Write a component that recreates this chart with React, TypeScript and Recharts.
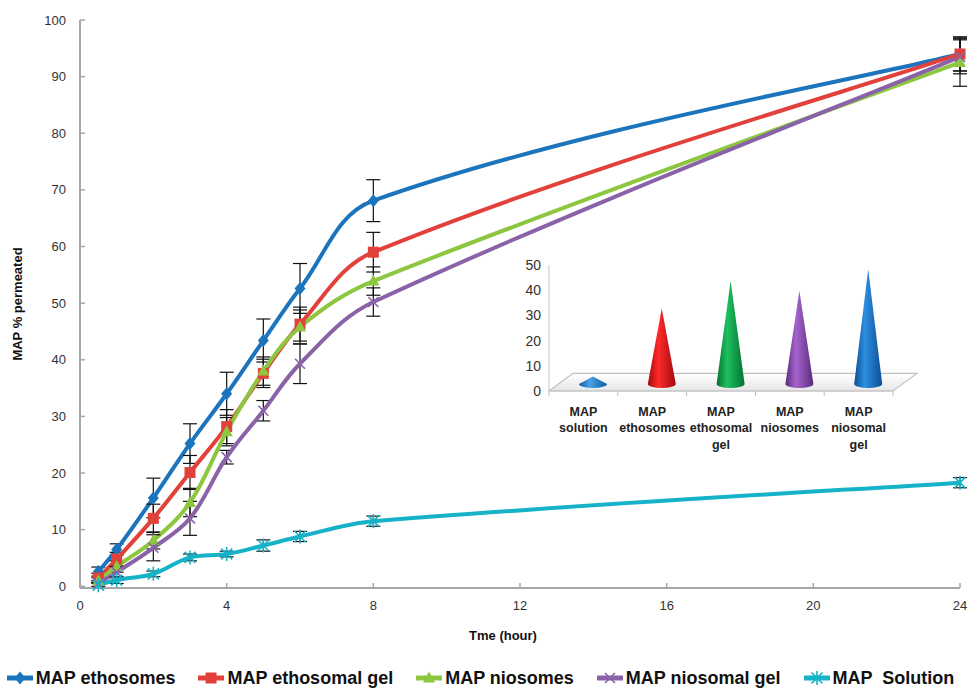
import React from "react";
import {
  Bar,
  BarChart,
  ErrorBar,
  Legend,
  Line,
  LineChart,
  ReferenceArea,
  XAxis,
  YAxis,
} from "recharts";

// permeation profile, % permeated vs time (h)
const hours = [0.5, 1, 2, 3, 4, 5, 6, 8, 24];
const ethosomes = [2.6, 6.5, 15.6, 25.2, 34.0, 43.4, 52.6, 68.1, 94.0];
const ethosomesErr = [0.8, 1.0, 3.5, 3.5, 3.8, 3.8, 4.4, 3.7, 3.0];
const ethosomalGel = [1.5, 4.8, 12.0, 20.1, 28.2, 37.6, 46.3, 59.0, 94.0];
const ethosomalGelErr = [0.8, 1.2, 2.5, 3.0, 3.0, 2.5, 3.0, 3.5, 3.0];
const niosomes = [1.0, 3.5, 8.1, 14.8, 27.3, 38.0, 45.8, 53.9, 92.5];
const niosomesErr = [0.5, 1.0, 1.5, 2.5, 2.5, 2.5, 3.0, 2.5, 4.2];
const niosomalGel = [0.5, 2.5, 6.8, 12.0, 22.8, 31.0, 39.3, 50.2, 93.5];
const niosomalGelErr = [0.5, 1.0, 2.3, 3.0, 1.2, 1.8, 3.5, 2.5, 3.0];
const solution = [0.2, 1.1, 2.2, 5.1, 5.7, 7.2, 8.8, 11.5, 18.3];
const solutionErr = [0.5, 0.6, 0.5, 0.6, 0.5, 1.0, 0.9, 0.9, 0.9];

const xTicks = [0, 4, 8, 12, 16, 20, 24];
const yTicks = [0, 10, 20, 30, 40, 50, 60, 70, 80, 90, 100];

// inset
const insetNames = [
  ["MAP", "solution"],
  ["MAP", "ethosomes"],
  ["MAP", "ethosomal", "gel"],
  ["MAP", "niosomes"],
  ["MAP", "niosomal", "gel"],
];
const insetValues = [3, 30, 41, 37, 45.5];
const insetTicks = [0, 10, 20, 30, 40, 50];

const series = [
  { key: "ethosomes", name: "MAP ethosomes", color: "#1c75bc", marker: "diamond" },
  { key: "ethosomalGel", name: "MAP ethosomal gel", color: "#e2403b", marker: "square" },
  { key: "niosomes", name: "MAP niosomes", color: "#8dc63f", marker: "triangle" },
  { key: "niosomalGel", name: "MAP niosomal gel", color: "#8a62a8", marker: "x" },
  { key: "solution", name: "MAP  Solution", color: "#16b2c8", marker: "star" },
];

const coneColors = [
  { dark: "#0f5aa0", light: "#4aa3e8" },
  { dark: "#a10a10", light: "#ff2a2a" },
  { dark: "#04722f", light: "#1fc060" },
  { dark: "#5a2a7c", light: "#a564cc" },
  { dark: "#0c4e92", light: "#2d8fe2" },
];

const data = hours.map((h, i) => ({
  hour: h,
  ethosomes: ethosomes[i],
  ethosomesErr: ethosomesErr[i],
  ethosomalGel: ethosomalGel[i],
  ethosomalGelErr: ethosomalGelErr[i],
  niosomes: niosomes[i],
  niosomesErr: niosomesErr[i],
  niosomalGel: niosomalGel[i],
  niosomalGelErr: niosomalGelErr[i],
  solution: solution[i],
  solutionErr: solutionErr[i],
}));

const insetData = insetNames.map((n, i) => ({ name: n.join(" "), lines: n, value: insetValues[i] }));

const AXIS = "#a6a6ab";
const FONT = "'Liberation Sans', Arial, sans-serif";

// spreadsheet-style smoothed line: tangent = next - prev, split by the
// neighbouring segment lengths so long segments don't loop back
const TENSION = 0.36;
function smoothCurve(context: any) {
  let xs: number[] = [];
  let ys: number[] = [];
  return {
    areaStart() {},
    areaEnd() {},
    lineStart() {
      xs = [];
      ys = [];
    },
    point(x: number, y: number) {
      xs.push(+x);
      ys.push(+y);
    },
    lineEnd() {
      const n = xs.length;
      if (!n) return;
      const before: number[][] = [];
      const after: number[][] = [];
      for (let i = 0; i < n; i++) {
        if (i === 0 || i === n - 1) {
          const j = i === 0 ? 1 : n - 2;
          const k = j < 0 ? i : j;
          const dx = (xs[k] - xs[i]) * TENSION * 0.5;
          const dy = (ys[k] - ys[i]) * TENSION * 0.5;
          before.push([xs[i] + dx, ys[i] + dy]);
          after.push([xs[i] + dx, ys[i] + dy]);
          continue;
        }
        const tx = xs[i + 1] - xs[i - 1];
        const ty = ys[i + 1] - ys[i - 1];
        const d0 = Math.hypot(xs[i] - xs[i - 1], ys[i] - ys[i - 1]);
        const d1 = Math.hypot(xs[i + 1] - xs[i], ys[i + 1] - ys[i]);
        const s = d0 + d1 || 1;
        before.push([xs[i] - (tx * TENSION * d0) / s, ys[i] - (ty * TENSION * d0) / s]);
        after.push([xs[i] + (tx * TENSION * d1) / s, ys[i] + (ty * TENSION * d1) / s]);
      }
      context.moveTo(xs[0], ys[0]);
      for (let i = 0; i < n - 1; i++) {
        const a = after[i];
        const b = before[i + 1];
        context.bezierCurveTo(a[0], a[1], b[0], b[1], xs[i + 1], ys[i + 1]);
      }
    },
  };
}

function Marker({ kind, cx, cy, color }: any) {
  if (cx == null || cy == null) return null;
  switch (kind) {
    case "diamond":
      return <path d={`M${cx},${cy - 6.5}L${cx + 5.5},${cy}L${cx},${cy + 6.5}L${cx - 5.5},${cy}Z`} fill={color} />;
    case "square":
      return <rect x={cx - 5.5} y={cy - 5.5} width={11} height={11} fill={color} />;
    case "triangle":
      return <path d={`M${cx},${cy - 6.5}L${cx + 6},${cy + 4.5}L${cx - 6},${cy + 4.5}Z`} fill={color} />;
    case "x":
      return (
        <path
          d={`M${cx - 5},${cy - 5}L${cx + 5},${cy + 5}M${cx - 5},${cy + 5}L${cx + 5},${cy - 5}`}
          stroke={color}
          strokeWidth={1.6}
        />
      );
    default:
      return (
        <path
          d={`M${cx - 5.5},${cy - 5.5}L${cx + 5.5},${cy + 5.5}M${cx - 5.5},${cy + 5.5}L${cx + 5.5},${cy - 5.5}M${cx},${cy - 7}L${cx},${cy + 7}`}
          stroke={color}
          strokeWidth={1.6}
        />
      );
  }
}

function YTick({ x, y, payload }: any) {
  return (
    <g>
      <line x1={x} x2={x + 5} y1={y} y2={y} stroke={AXIS} strokeWidth={1.5} />
      <text x={x - 14} y={y + 4.5} textAnchor="end" fontSize={13} fill="#333" fontFamily={FONT}>
        {payload.value}
      </text>
    </g>
  );
}

function XTick({ x, y, payload }: any) {
  return (
    <g>
      <line x1={x} x2={x} y1={y} y2={y - 5} stroke={AXIS} strokeWidth={1.5} />
      <text x={x} y={y + 22} textAnchor="middle" fontSize={13} fill="#333" fontFamily={FONT}>
        {payload.value}
      </text>
    </g>
  );
}

function LegendContent() {
  return (
    <div
      style={{
        display: "flex",
        justifyContent: "center",
        gap: 22,
        height: 22,
        lineHeight: "22px",
        whiteSpace: "pre",
        fontFamily: FONT,
        fontWeight: "bold",
        fontSize: 18,
        color: "#111",
      }}
    >
      {series.map((s) => (
        <div key={s.key} style={{ display: "flex", alignItems: "center" }}>
          <svg width={28} height={16} style={{ marginRight: 2 }}>
            <line x1={1} x2={27} y1={8} y2={8} stroke={s.color} strokeWidth={5} />
            <Marker kind={s.marker} cx={14} cy={8} color={s.color} />
          </svg>
          <span>{s.name}</span>
        </div>
      ))}
    </div>
  );
}

// tick y comes in 8px below the axis line (tickSize + tickMargin)
function InsetTick({ x, y, payload, width, visibleTicksCount, index }: any) {
  const lines = insetData.find((d) => d.name === payload.value)?.lines ?? [payload.value];
  const band = width / (visibleTicksCount || insetData.length);
  const axisY = y - 8;
  return (
    <g>
      <line x1={x - band / 2} x2={x - band / 2} y1={axisY} y2={axisY + 5} stroke="#c8c8c8" strokeWidth={1.2} />
      {index === insetData.length - 1 && (
        <line x1={x + band / 2} x2={x + band / 2} y1={axisY} y2={axisY + 5} stroke="#c8c8c8" strokeWidth={1.2} />
      )}
      {lines.map((l: string, i: number) => (
        <text
          key={i}
          x={x}
          y={axisY + 24.5 + i * 16.5}
          textAnchor="middle"
          fontSize={12.5}
          fontWeight="bold"
          fill="#222"
          fontFamily={FONT}
        >
          {l}
        </text>
      ))}
    </g>
  );
}

function Cone({ x, y, width, height, index }: any) {
  const c = coneColors[index % coneColors.length];
  const id = `cone-grad-${index}`;
  const cx = x + width / 2 + 10;
  const base = y + height - 7;
  const tip = y - 7;
  const rx = width / 2;
  const ry = 4;
  return (
    <g>
      <defs>
        <linearGradient id={id} x1="0" x2="1" y1="0" y2="0">
          <stop offset="0" stopColor={c.dark} />
          <stop offset="0.38" stopColor={c.light} />
          <stop offset="1" stopColor={c.dark} />
        </linearGradient>
      </defs>
      <path
        d={`M${cx - rx},${base}L${cx},${tip}L${cx + rx},${base}A${rx},${ry} 0 0 1 ${cx - rx},${base}Z`}
        fill={`url(#${id})`}
      />
    </g>
  );
}

function Floor({ x, y, width, height }: any) {
  const d = 24;
  return (
    <g>
      <defs>
        <linearGradient id="floor-grad" x1="0" x2="0" y1="0" y2="1">
          <stop offset="0" stopColor="#ffffff" />
          <stop offset="1" stopColor="#e6e6e6" />
        </linearGradient>
      </defs>
      <path
        d={`M${x},${y + height}L${x + width},${y + height}L${x + width + d},${y}L${x + d},${y}Z`}
        fill="url(#floor-grad)"
        stroke="#c0c0c0"
        strokeWidth={1.2}
      />
    </g>
  );
}

function Inset() {
  return (
    <BarChart
      width={404}
      height={210}
      data={insetData}
      margin={{ top: 8, right: 30, left: 0, bottom: 0 }}
      style={{ fontFamily: FONT }}
    >
      <XAxis
        dataKey="name"
        height={76}
        interval={0}
        axisLine={{ stroke: "#c8c8c8", strokeWidth: 1.2 }}
        tickLine={false}
        tick={<InsetTick />}
      />
      <YAxis
        width={30}
        domain={[0, 50]}
        ticks={insetTicks}
        axisLine={{ stroke: "#d0d0d0", strokeWidth: 1.2 }}
        tickLine={false}
        tick={{ fontSize: 14, fill: "#333" }}
      />
      <ReferenceArea y1={0} y2={7} shape={<Floor />} ifOverflow="visible" />
      <Bar dataKey="value" barSize={28} shape={<Cone />} isAnimationActive={false} />
    </BarChart>
  );
}

export default function App() {
  return (
    <div
      style={{
        position: "absolute",
        left: 0,
        top: 0,
        width: 968,
        height: 689,
        background: "#fff",
        fontFamily: FONT,
      }}
    >
      <LineChart width={968} height={689} data={data} margin={{ top: 20, right: 8, left: 0, bottom: 0 }}>
        <XAxis
          dataKey="hour"
          type="number"
          domain={[0, 24]}
          ticks={xTicks}
          height={79}
          tickSize={0}
          tickMargin={0}
          tickLine={false}
          axisLine={{ stroke: AXIS, strokeWidth: 2 }}
          tick={<XTick />}
          label={{
            value: "Tme (hour)",
            position: "insideBottom",
            offset: 27,
            dx: -17,
            style: { fontSize: 13, fontWeight: "bold", fill: "#111", fontFamily: FONT },
          }}
        />
        <YAxis
          width={80}
          domain={[0, 100]}
          ticks={yTicks}
          tickSize={0}
          tickMargin={0}
          tickLine={false}
          axisLine={{ stroke: AXIS, strokeWidth: 2 }}
          tick={<YTick />}
          label={{
            value: "MAP % permeated",
            angle: -90,
            position: "insideLeft",
            offset: 17,
            style: { textAnchor: "middle", fontSize: 13, fontWeight: "bold", fill: "#111", fontFamily: FONT },
          }}
        />
        {series.map((s) => (
          <Line
            key={s.key}
            type={smoothCurve as any}
            dataKey={s.key}
            name={s.name}
            stroke={s.color}
            strokeWidth={4}
            isAnimationActive={false}
            activeDot={false}
            dot={(p: any) => <Marker key={`${s.key}-${p.index}`} kind={s.marker} cx={p.cx} cy={p.cy} color={s.color} />}
          >
            <ErrorBar
              dataKey={`${s.key}Err`}
              direction="y"
              width={7}
              stroke="#111"
              strokeWidth={1.2}
              isAnimationActive={false}
            />
          </Line>
        ))}
        <Legend verticalAlign="bottom" align="center" content={() => <LegendContent />} />
      </LineChart>
      <div style={{ position: "absolute", left: 519, top: 257 }}>
        <Inset />
      </div>
    </div>
  );
}
